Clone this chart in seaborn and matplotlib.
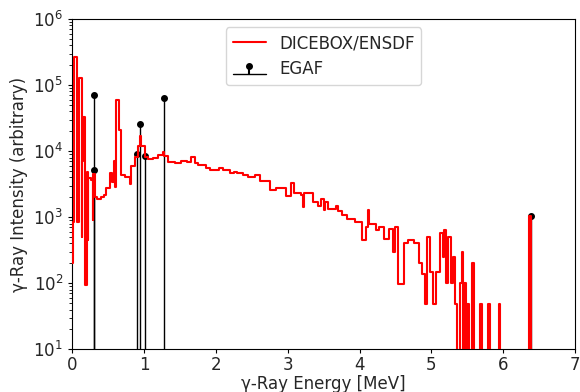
import matplotlib
matplotlib.use("Agg")
import matplotlib.pyplot as plt
import numpy as np
import pandas as pd
import seaborn as sns

# DICEBOX/ENSDF simulated spectrum (step, value holds until next energy)
energy = [0.000, 0.005, 0.027, 0.060, 0.092, 0.130, 0.140, 0.152, 0.183, 0.200,
          0.215, 0.225, 0.255, 0.285, 0.295, 0.315, 0.350, 0.400, 0.440, 0.477,
          0.524, 0.547, 0.575, 0.593, 0.616, 0.653, 0.686, 0.732, 0.800, 0.825,
          0.870, 0.917, 0.940, 0.963, 1.010, 1.056, 1.125, 1.195, 1.265, 1.280,
          1.334, 1.430, 1.520, 1.600, 1.660, 1.704, 1.750, 1.866, 1.913, 2.050,
          2.100, 2.190, 2.250, 2.300, 2.380, 2.450, 2.540, 2.610, 2.750, 2.840,
          2.980, 3.050, 3.090, 3.190, 3.210, 3.230, 3.350, 3.420, 3.460, 3.500,
          3.520, 3.560, 3.670, 3.700, 3.760, 3.830, 3.930, 4.040, 4.090, 4.120,
          4.130, 4.230, 4.270, 4.340, 4.410, 4.460, 4.500, 4.530, 4.620, 4.670,
          4.760, 4.830, 4.870, 4.910, 4.940, 4.980, 5.020, 5.060, 5.120, 5.160,
          5.180, 5.210, 5.225, 5.270, 5.300, 5.330, 5.350, 5.400, 5.420, 5.440,
          5.460, 5.480, 5.500, 5.520, 5.560, 5.590, 5.680, 5.700, 5.790, 5.810,
          5.940, 5.960, 6.365, 6.385, 7.000]
intensity = [200, 850, 2.7e5, 850, 1.3e5, 500, 7.0e3, 3.3e4, 95, 4.8e3,
             450, 3.9e3, 3.6e3, 900, 4.5e3, 2.0e3, 1.9e3, 2.0e3, 2.2e3, 2.8e3,
             4.6e3, 3.4e3, 7.0e3, 2.9e3, 5.9e4, 2.1e4, 4.3e3, 4.1e3, 3.2e3, 6.0e3,
             8.1e3, 1.2e4, 1.7e4, 1.2e4, 8.1e3, 7.7e3, 8.0e3, 8.8e3, 9.8e3, 8.5e3,
             6.9e3, 6.5e3, 7.2e3, 6.8e3, 8.1e3, 6.5e3, 6.2e3, 5.5e3, 5.2e3, 5.5e3,
             5.2e3, 4.6e3, 4.9e3, 4.6e3, 4.3e3, 4.0e3, 4.3e3, 3.5e3, 2.6e3, 2.8e3,
             2.1e3, 3.3e3, 2.3e3, 2.2e3, 1.45e3, 2.3e3, 1.7e3, 1.5e3, 1.9e3, 1.3e3,
             1.7e3, 1.35e3, 1.5e3, 1.25e3, 1.07e3, 950, 850, 450, 710, 1.3e3,
             800, 630, 700, 470, 660, 300, 700, 99, 400, 450,
             400, 200, 140, 49, 500, 150, 49, 150, 570, 250,
             630, 100, 500, 100, 250, 49, 0, 100, 300, 0,
             100, 0, 49, 0, 200, 0, 49, 0, 49, 0,
             49, 0, 1030, 0, 0]

# EGAF measured lines
egaf_energy = [0.297, 0.298, 0.908, 0.940, 1.019, 1.278, 6.380]
egaf_intensity = [7.0e4, 5.1e3, 9.0e3, 2.6e4, 8.5e3, 6.4e4, 1.03e3]

sns.set_style("ticks")
plt.rcParams['font.family'] = ['DejaVu Sans']

fig = plt.figure(figsize=(5.8, 3.92), dpi=100)
ax = fig.add_axes([0.1245, 0.109, 0.867, 0.8425])

df = pd.DataFrame({"E": energy, "I": intensity})
sns.lineplot(data=df, x="E", y="I", ax=ax, drawstyle="steps-post", color="red",
             linewidth=1.5, estimator=None, sort=False, zorder=3)
red_line = ax.lines[0]

stem = ax.stem(egaf_energy, egaf_intensity, linefmt="k-", markerfmt="ko",
               basefmt="k-", bottom=1)
stem.stemlines.set_linewidth(1.0)
stem.stemlines.set_zorder(2)
stem.markerline.set_markersize(4)
stem.markerline.set_zorder(2.5)
stem.baseline.set_linewidth(1.0)

ax.set_yscale("log")
ax.set_ylim(10, 1e6)
ax.set_xlim(0, 7)
ax.set_xticks(range(0, 8))

for s in ax.spines.values():
    s.set_visible(True)
    s.set_color("black")
    s.set_linewidth(0.8)

ax.tick_params(axis="both", which="major", labelsize=12, color="black", length=3)
ax.tick_params(axis="x", which="major", pad=1.5)
ax.tick_params(axis="y", which="minor", color="black", length=2)

ax.set_xlabel("γ-Ray Energy [MeV]", fontsize=12, labelpad=1)
ax.set_ylabel("γ-Ray Intensity (arbitrary)", fontsize=12)

ax.legend(handles=[red_line, stem], labels=["DICEBOX/ENSDF", "EGAF"],
          loc="upper center", fontsize=12, frameon=True)

fig.savefig("out.png", dpi=100)
